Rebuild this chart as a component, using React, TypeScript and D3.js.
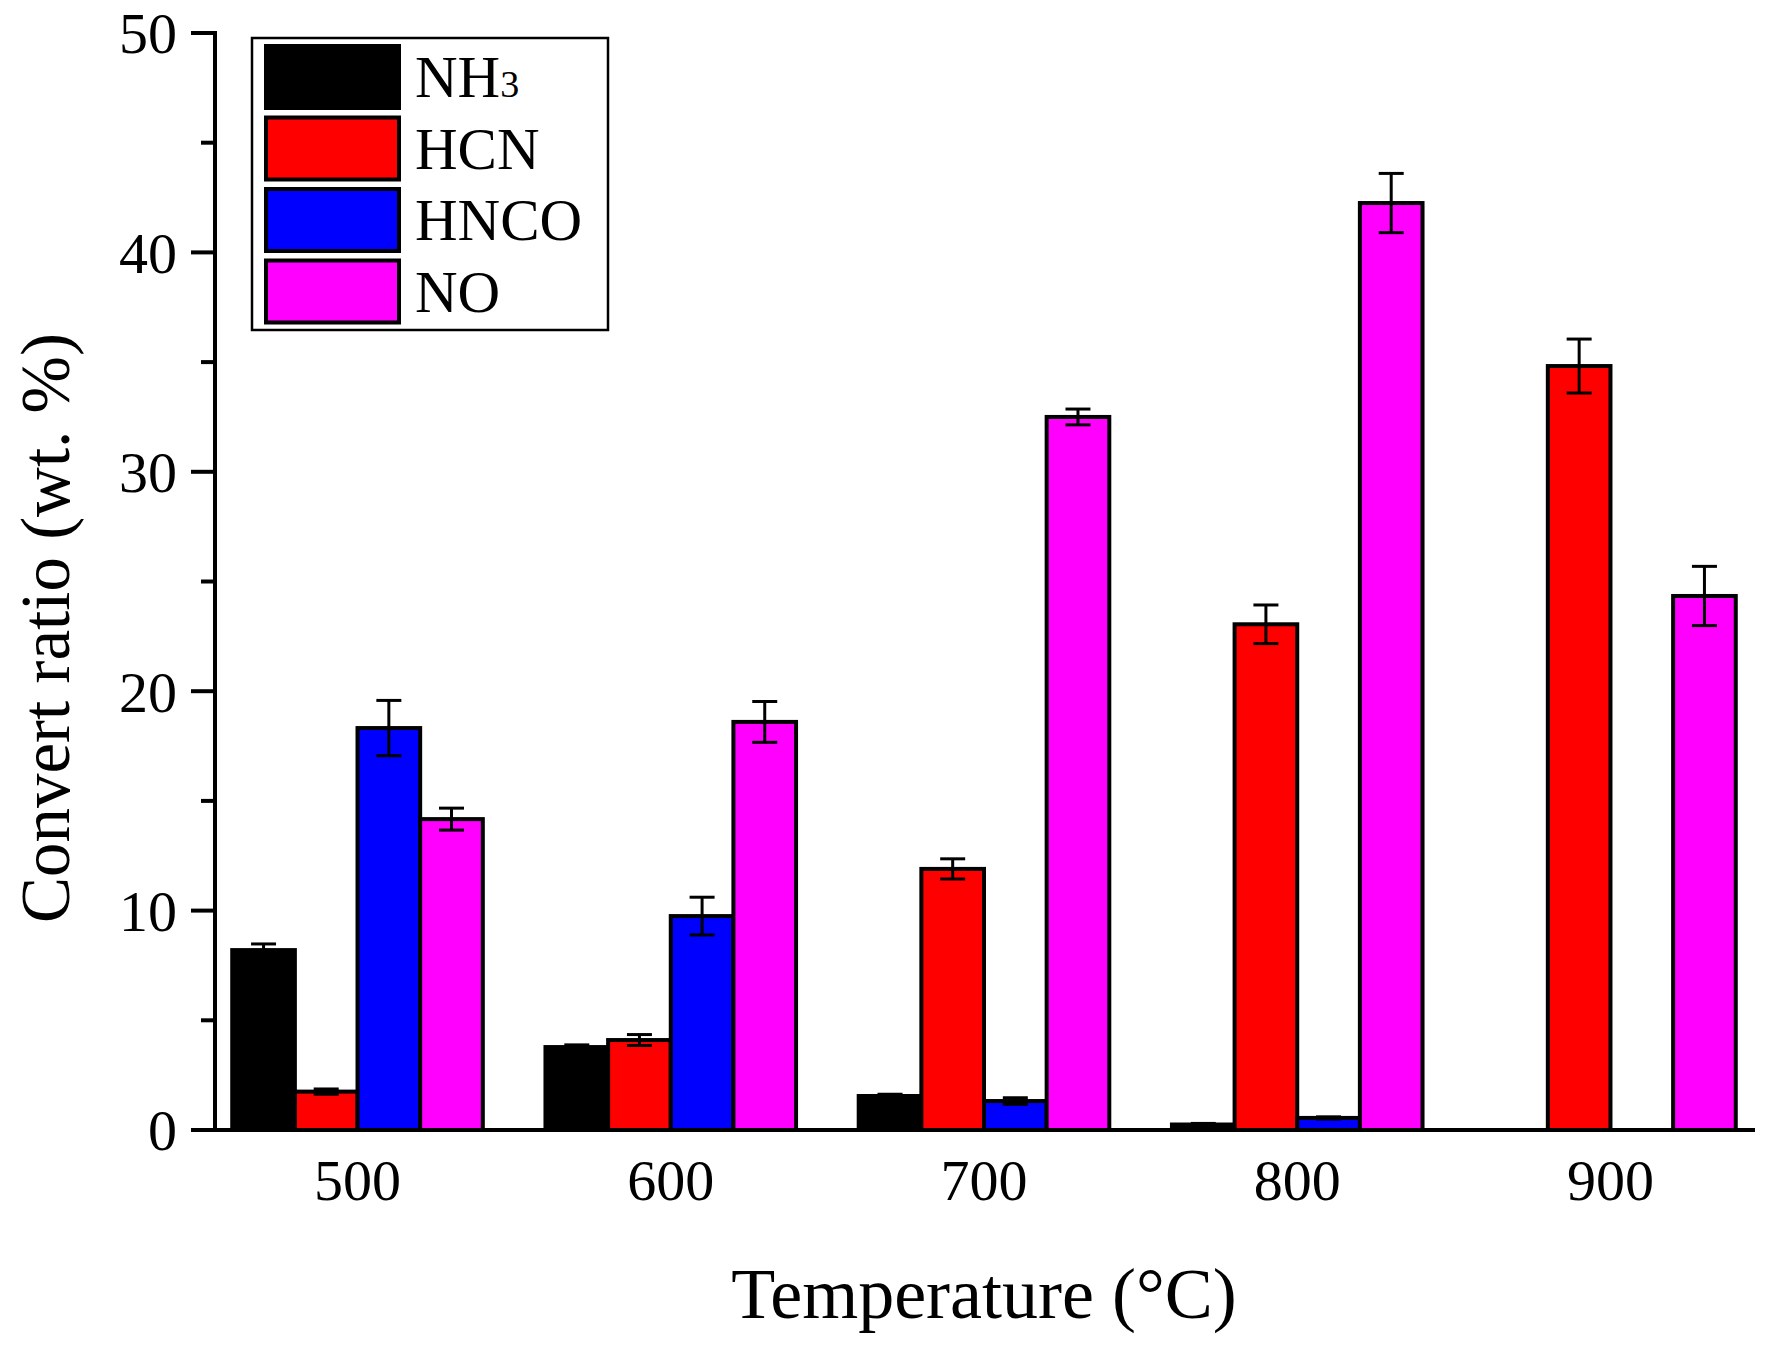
import React from 'react';
import * as d3 from 'd3';

// temperatures (°C)
const categories = ['500', '600', '700', '800', '900'];
const seriesNames = ['NH3', 'HCN', 'HNCO', 'NO'];
const seriesColors = ['#000000', '#ff0000', '#0000ff', '#ff00ff'];

const nh3 = [8.2, 3.78, 1.55, 0.25, 0];
const nh3Err = [0.28, 0.1, 0.08, 0.05, 0];
const hcn = [1.75, 4.1, 11.9, 23.05, 34.82];
const hcnErr = [0.12, 0.25, 0.46, 0.88, 1.23];
const hnco = [18.32, 9.75, 1.32, 0.55, 0];
const hncoErr = [1.26, 0.86, 0.15, 0.05, 0];
const no = [14.17, 18.6, 32.5, 42.25, 24.34];
const noErr = [0.5, 0.93, 0.36, 1.35, 1.35];

const majorTicks = [0, 10, 20, 30, 40, 50];
const minorTicks = [5, 15, 25, 35, 45];

const W = 1773;
const H = 1345;
const left = 215;
const right = 1753;
const top = 33;
const bottom = 1130;
const FONT = "'Liberation Serif', 'Times New Roman', serif";

const App: React.FC = () => {
  const values = [nh3, hcn, hnco, no];
  const errors = [nh3Err, hcnErr, hncoErr, noErr];

  const x = d3.scalePoint<string>().domain(categories).range([left, right]).padding(0.455);
  const step = x.step();
  const barW = step * 0.2;
  const inner = d3
    .scaleBand<string>()
    .domain(seriesNames)
    .range([-2 * barW, 2 * barW])
    .padding(0);
  const y = d3.scaleLinear().domain([0, 50]).range([bottom, top]);

  return (
    <div style={{ position: 'absolute', left: 0, top: 0 }}>
      <svg width={W} height={H} style={{ display: 'block', background: '#fff' }}>
        {/* bars */}
        {seriesNames.map((s, si) => (
          <g key={s}>
            {categories.map((c, ci) => {
              const v = values[si][ci];
              if (!v) return null;
              const bx = (x(c) as number) + (inner(s) as number);
              return (
                <rect
                  key={c}
                  x={bx}
                  y={y(v)}
                  width={inner.bandwidth()}
                  height={y(0) - y(v)}
                  fill={seriesColors[si]}
                  stroke="#000"
                  strokeWidth={4}
                />
              );
            })}
          </g>
        ))}
        {/* error bars */}
        {seriesNames.map((s, si) => (
          <g key={s + '-err'} stroke="#000" strokeWidth={3}>
            {categories.map((c, ci) => {
              const v = values[si][ci];
              const e = errors[si][ci];
              if (!v || !e) return null;
              const cx = (x(c) as number) + (inner(s) as number) + inner.bandwidth() / 2;
              return (
                <g key={c}>
                  <line x1={cx} x2={cx} y1={y(v + e)} y2={y(v - e)} />
                  <line x1={cx - 12.5} x2={cx + 12.5} y1={y(v + e)} y2={y(v + e)} />
                  <line x1={cx - 12.5} x2={cx + 12.5} y1={y(v - e)} y2={y(v - e)} />
                </g>
              );
            })}
          </g>
        ))}
        {/* axes */}
        <g stroke="#000" strokeWidth={4} strokeLinecap="square">
          <line x1={left} x2={left} y1={top} y2={bottom} />
          <line x1={left} x2={right} y1={bottom} y2={bottom} />
          {majorTicks.map((t) => (
            <line key={t} x1={left - 22} x2={left} y1={y(t)} y2={y(t)} />
          ))}
          {minorTicks.map((t) => (
            <line key={t} x1={left - 12} x2={left} y1={y(t)} y2={y(t)} />
          ))}
        </g>
        <g fontFamily={FONT} fontSize={58} fill="#000">
          {majorTicks.map((t) => (
            <text key={t} x={left - 38} y={y(t)} dy="0.35em" textAnchor="end">
              {t}
            </text>
          ))}
          {categories.map((c) => (
            <text key={c} x={x(c)} y={1200} textAnchor="middle">
              {c}
            </text>
          ))}
        </g>
        {/* axis titles */}
        <text
          fontFamily={FONT}
          fontSize={69}
          textAnchor="middle"
          transform={`translate(69,628) rotate(-90)`}
        >
          Convert ratio (wt. %)
        </text>
        <text fontFamily={FONT} fontSize={72} textAnchor="middle" x={(left + right) / 2} y={1318}>
          Temperature (°C)
        </text>
        {/* legend */}
        <g>
          <rect x={252} y={38} width={356} height={292} fill="#fff" stroke="#000" strokeWidth={2.5} />
          {seriesNames.map((s, i) => (
            <g key={s} transform={`translate(264,${44 + i * 71.5})`}>
              <rect x={2} y={2} width={133} height={62} fill={seriesColors[i]} stroke="#000" strokeWidth={4} />
              <text x={151} y={53} fontFamily={FONT} fontSize={59}>
                {s === 'NH3' ? (
                  <>
                    NH<tspan fontSize={38}>3</tspan>
                  </>
                ) : (
                  s
                )}
              </text>
            </g>
          ))}
        </g>
      </svg>
    </div>
  );
};

export default App;
